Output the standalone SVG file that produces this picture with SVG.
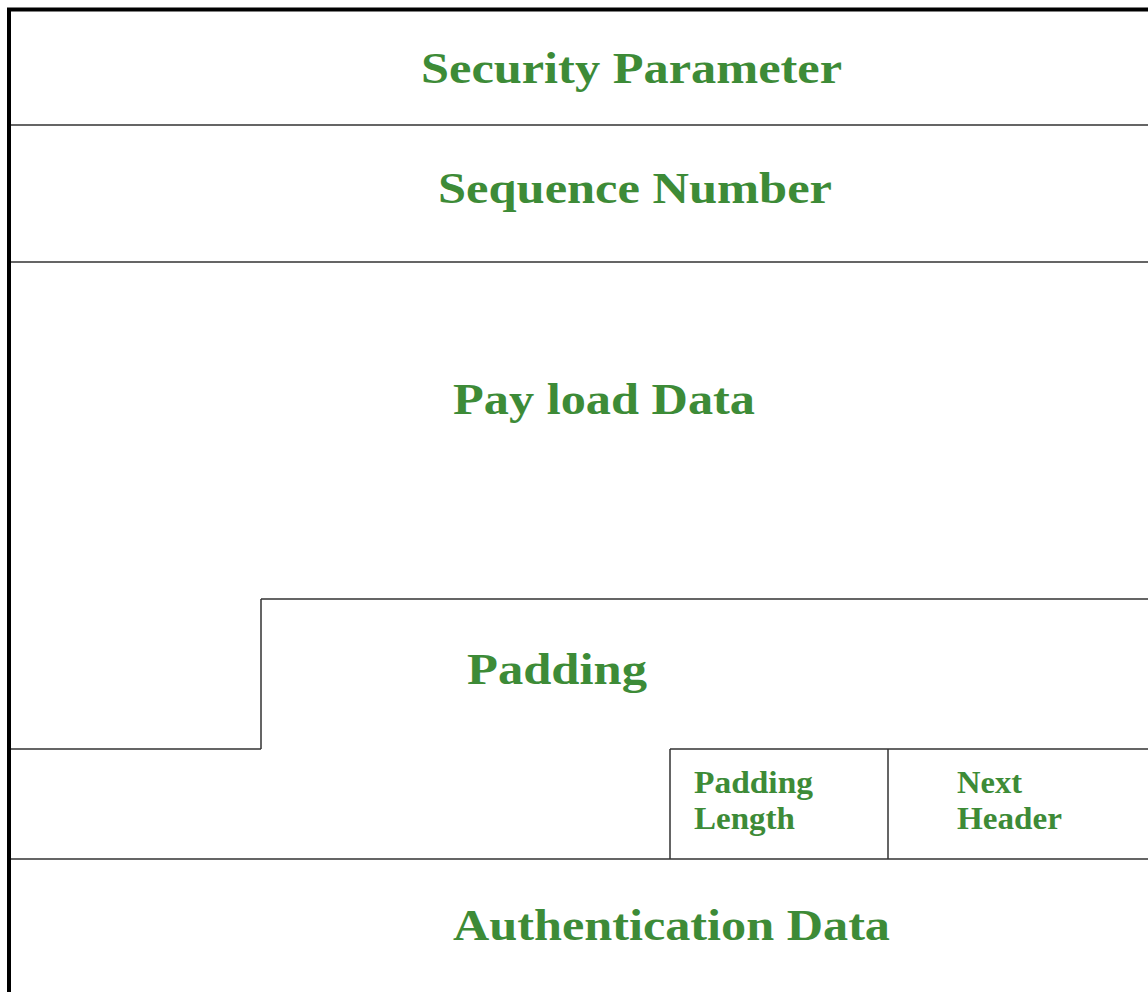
<svg xmlns="http://www.w3.org/2000/svg" width="1148" height="992" viewBox="0 0 1148 992">
<style>
.thin{stroke:#333;stroke-width:1.5;fill:none}
.thick{stroke:#000;stroke-width:4;fill:none}
.big{font-family:"Liberation Serif","Times New Roman",serif;font-weight:bold;font-size:45px;fill:#3d8b37}
.small{font-family:"Liberation Serif","Times New Roman",serif;font-weight:bold;font-size:31px;fill:#3d8b37}
</style>
<rect width="1148" height="992" fill="#fff"/>
<g id="connectors">
<path class="thin" d="M10 125H1148M10 262H1148M261 599H1148M261 599V749M10 749H261M670 749H1148M670 749V859M888 749V859M10 859H1148"/>
<path class="thick" d="M9 992V9.5H1148"/>
</g>
<g id="security-parameter"><text class="big" x="421" y="83" textLength="421" lengthAdjust="spacingAndGlyphs">Security Parameter</text></g>
<g id="sequence-number"><text class="big" x="438" y="203" textLength="394" lengthAdjust="spacingAndGlyphs">Sequence Number</text></g>
<g id="payload-data"><text class="big" x="453" y="414" textLength="302" lengthAdjust="spacingAndGlyphs">Pay load Data</text></g>
<g id="padding"><text class="big" x="467" y="684" textLength="180" lengthAdjust="spacingAndGlyphs">Padding</text></g>
<g id="padding-length"><text class="small" x="694" y="793" textLength="119" lengthAdjust="spacingAndGlyphs">Padding</text><text class="small" x="694" y="829" textLength="101" lengthAdjust="spacingAndGlyphs">Length</text></g>
<g id="next-header"><text class="small" x="957" y="793" textLength="65" lengthAdjust="spacingAndGlyphs">Next</text><text class="small" x="957" y="829" textLength="105" lengthAdjust="spacingAndGlyphs">Header</text></g>
<g id="authentication-data"><text class="big" x="453" y="940" textLength="437" lengthAdjust="spacingAndGlyphs">Authentication Data</text></g>
</svg>
